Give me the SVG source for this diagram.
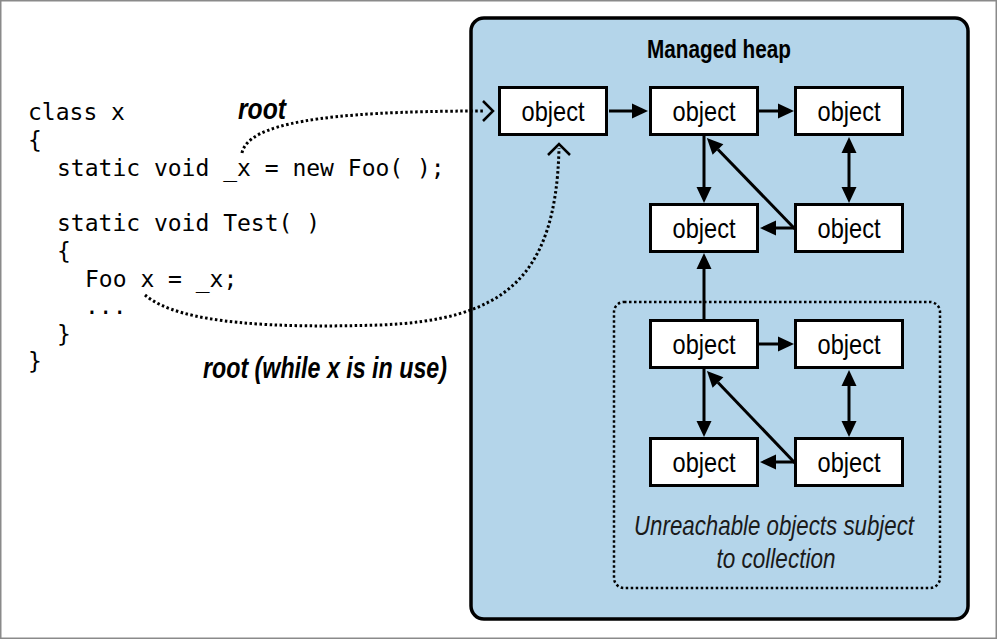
<svg xmlns="http://www.w3.org/2000/svg" width="997" height="640" viewBox="0 0 997 640">
  <style>
    .frame { fill: #ffffff; stroke: #8a8a8a; stroke-width: 1.5; }
    .heap { fill: #b4d5ea; stroke: #000000; stroke-width: 3.5; }
    .zone { fill: none; stroke: #000000; stroke-width: 2.5; stroke-dasharray: 2.5 2.5; }
    .box rect { fill: #ffffff; stroke: #000000; stroke-width: 3; }
    .box text { font-family: "Liberation Sans", Arial, sans-serif; font-size: 28px; fill: #000000; text-anchor: middle; }
    .code { font-family: "DejaVu Sans Mono", "Liberation Mono", monospace; font-size: 23px; fill: #000000; }
    .label { font-family: "Liberation Sans", Arial, sans-serif; font-weight: bold; font-style: italic; font-size: 29px; fill: #000000; }
    .title { font-family: "Liberation Sans", Arial, sans-serif; font-weight: bold; font-size: 25px; fill: #000000; text-anchor: middle; }
    .note { font-family: "Liberation Sans", Arial, sans-serif; font-style: italic; font-size: 28px; fill: #1a1a1a; text-anchor: middle; }
    .link { fill: none; stroke: #000000; stroke-width: 3; marker-end: url(#head); }
    .both { marker-start: url(#head); }
    .ref { fill: none; stroke: #000000; stroke-width: 3; stroke-dasharray: 2.5 2.5; }
    .chev { fill: none; stroke: #000000; stroke-width: 2.5; }
  </style>
  <defs>
    <marker id="head" markerUnits="userSpaceOnUse" markerWidth="17" markerHeight="16" refX="0" refY="8" orient="auto-start-reverse" overflow="visible">
      <path d="M0,0.5 L16,8 L0,15.5 Z" fill="#000000"/>
    </marker>
  </defs>

  <!-- page frame -->
  <rect class="frame" x="0.75" y="0.75" width="995.5" height="637.5"/>

  <!-- managed heap area -->
  <rect class="heap" x="471" y="18" width="497" height="601" rx="13"/>
  <text class="title" x="719" y="58" textLength="144" lengthAdjust="spacingAndGlyphs">Managed heap</text>

  <!-- unreachable region -->
  <rect class="zone" x="614" y="302" width="326" height="286" rx="10"/>
  <text class="note" x="774" y="535" textLength="280" lengthAdjust="spacingAndGlyphs">Unreachable objects subject</text>
  <text class="note" x="776" y="568" textLength="119" lengthAdjust="spacingAndGlyphs">to collection</text>

  <!-- source code -->
  <g id="code">
    <text class="code" x="28" y="120">class x</text>
    <text class="code" x="28" y="148">{</text>
    <text class="code" x="57" y="176">static void _x = new Foo( );</text>
    <text class="code" x="57" y="231">static void Test( )</text>
    <text class="code" x="57" y="259">{</text>
    <text class="code" x="85" y="287">Foo x = _x;</text>
    <text class="code" x="85" y="314">...</text>
    <text class="code" x="57" y="342">}</text>
    <text class="code" x="28" y="369">}</text>
  </g>

  <!-- root labels -->
  <text class="label" x="238" y="119" textLength="48" lengthAdjust="spacingAndGlyphs">root</text>
  <text class="label" x="203" y="378" textLength="244" lengthAdjust="spacingAndGlyphs">root (while x is in use)</text>

  <!-- objects -->
  <g id="obj-r1c1" class="box"><rect x="499.5" y="87.5" width="107" height="47"/><text x="553" y="121" textLength="63" lengthAdjust="spacingAndGlyphs">object</text></g>
  <g id="obj-r1c2" class="box"><rect x="650.5" y="87.5" width="107" height="47"/><text x="704" y="121" textLength="63" lengthAdjust="spacingAndGlyphs">object</text></g>
  <g id="obj-r1c3" class="box"><rect x="795.5" y="87.5" width="107" height="47"/><text x="849" y="121" textLength="63" lengthAdjust="spacingAndGlyphs">object</text></g>
  <g id="obj-r2c2" class="box"><rect x="650.5" y="204.5" width="107" height="47"/><text x="704" y="238" textLength="63" lengthAdjust="spacingAndGlyphs">object</text></g>
  <g id="obj-r2c3" class="box"><rect x="795.5" y="204.5" width="107" height="47"/><text x="849" y="238" textLength="63" lengthAdjust="spacingAndGlyphs">object</text></g>
  <g id="obj-r3c2" class="box"><rect x="650.5" y="320.5" width="107" height="47"/><text x="704" y="354" textLength="63" lengthAdjust="spacingAndGlyphs">object</text></g>
  <g id="obj-r3c3" class="box"><rect x="795.5" y="320.5" width="107" height="47"/><text x="849" y="354" textLength="63" lengthAdjust="spacingAndGlyphs">object</text></g>
  <g id="obj-r4c2" class="box"><rect x="650.5" y="438.5" width="107" height="47"/><text x="704" y="472" textLength="63" lengthAdjust="spacingAndGlyphs">object</text></g>
  <g id="obj-r4c3" class="box"><rect x="795.5" y="438.5" width="107" height="47"/><text x="849" y="472" textLength="63" lengthAdjust="spacingAndGlyphs">object</text></g>

  <!-- connectors -->
  <g id="connectors">
    <!-- root references -->
    <path class="ref" d="M242,153 C248,124 320,111 484,111"/>
    <path class="chev" d="M483,101 L493,111 L483,121"/>
    <path class="ref" d="M145,295 C180,325 280,328 380,325 C500,320 556,282 559,148"/>
    <path class="chev" d="M548,155 L559,144 L570,155"/>

    <!-- reachable graph -->
    <path class="link" d="M609,111 L632,111"/>
    <path class="link" d="M759,111 L778,111"/>
    <path class="link" d="M704,136 L704,187"/>
    <path class="link" d="M795,229 L718,149.5"/>
    <path class="link" d="M795,228 L776,228"/>
    <path class="link both" d="M849,153 L849,187"/>
    <path class="link" d="M704,320 L704,269"/>

    <!-- unreachable graph -->
    <path class="link" d="M759,344 L778,344"/>
    <path class="link" d="M704,369 L704,421"/>
    <path class="link" d="M795,463 L718,382.5"/>
    <path class="link" d="M795,462 L776,462"/>
    <path class="link both" d="M849,386 L849,421"/>
  </g>
</svg>
